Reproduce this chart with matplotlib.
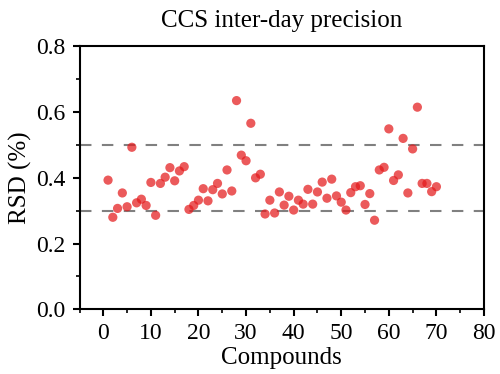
import matplotlib
matplotlib.use("Agg")
import matplotlib.pyplot as plt
from matplotlib.ticker import MultipleLocator

# compound index 1..70 and inter-day RSD values
compounds = list(range(1, 71))
rsd = [
    0.393, 0.280, 0.307, 0.354, 0.312, 0.493, 0.324, 0.335, 0.316, 0.386,
    0.286, 0.383, 0.402, 0.431, 0.391, 0.421, 0.434, 0.304, 0.316, 0.332,
    0.367, 0.330, 0.364, 0.383, 0.351, 0.424, 0.360, 0.635, 0.469, 0.452,
    0.566, 0.400, 0.411, 0.290, 0.332, 0.293, 0.357, 0.317, 0.344, 0.302,
    0.332, 0.320, 0.365, 0.320, 0.357, 0.387, 0.338, 0.396, 0.345, 0.326,
    0.302, 0.355, 0.373, 0.376, 0.319, 0.352, 0.271, 0.424, 0.432, 0.549,
    0.392, 0.409, 0.520, 0.354, 0.488, 0.615, 0.383, 0.383, 0.358, 0.373,
]
ref_lines = [0.3, 0.5]

plt.rcParams["font.family"] = ["Liberation Serif", "DejaVu Serif"]

fig = plt.figure(figsize=(5.0, 3.74), dpi=100)
ax = fig.add_axes([0.159, 0.173, 0.809, 0.703])

for y in ref_lines:
    ax.axhline(y, color="#808080", lw=1.5, dashes=(5.5, 5), zorder=1)

ax.scatter(compounds, rsd, s=44, color="#E41A1C", alpha=0.72, edgecolors="none", zorder=3)

ax.set_xlim(-5, 80)
ax.set_ylim(0.0, 0.8)
ax.xaxis.set_major_locator(MultipleLocator(10))
ax.xaxis.set_minor_locator(MultipleLocator(5))
ax.yaxis.set_major_locator(MultipleLocator(0.2))
ax.yaxis.set_minor_locator(MultipleLocator(0.1))
ax.yaxis.set_major_formatter(plt.FuncFormatter(lambda v, p: f"{v:.1f}"))

for s in ax.spines.values():
    s.set_linewidth(1.5)
ax.tick_params(which="major", direction="out", length=5, width=1.5, labelsize=17, pad=5)
ax.tick_params(which="minor", direction="out", length=3, width=1.2)
ax.tick_params(top=False, right=False, which="both")

ax.set_xlabel("Compounds", fontsize=18, labelpad=2)
ax.set_ylabel("RSD (%)", fontsize=18, labelpad=3)
ax.set_title("CCS inter-day precision", fontsize=18, pad=14)

fig.savefig("out.png", dpi=100)
